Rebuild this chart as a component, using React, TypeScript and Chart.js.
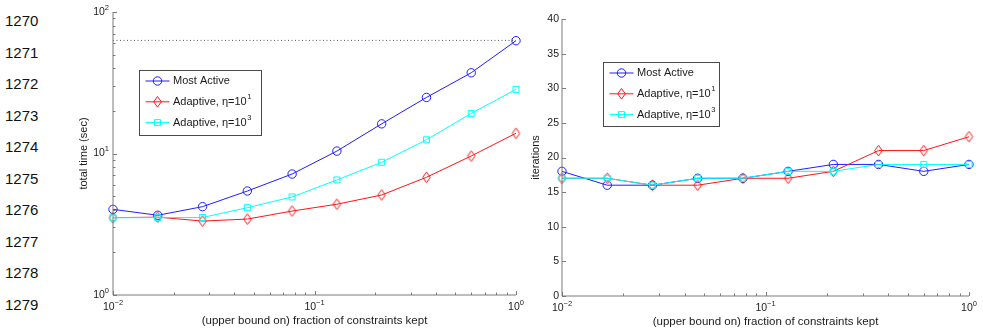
import React, { useEffect, useRef } from 'react';
import { Chart, registerables } from 'chart.js';
Chart.register(...registerables);

const FONT = '"Liberation Sans", Arial, Helvetica, sans-serif';

// ---------- data ----------
const fractionKept = [0.01, 0.016681, 0.027826, 0.046416, 0.077426, 0.12915, 0.21544, 0.35938, 0.59948, 1.0];

const timeMostActive = [4.03, 3.66, 4.21, 5.43, 7.16, 10.4, 16.2, 24.9, 37.2, 62.7];
const timeAdaptive1 = [3.52, 3.55, 3.33, 3.44, 3.92, 4.38, 5.09, 6.79, 9.6, 13.9];
const timeAdaptive3 = [3.52, 3.52, 3.53, 4.14, 4.93, 6.5, 8.67, 12.5, 19.2, 28.4];
const timeLimitX = [0.01, 1.0];
const timeLimitY = [63, 63];

const itersMostActive = [18, 16, 16, 17, 17, 18, 19, 19, 18, 19];
const itersAdaptive1 = [17, 17, 16, 16, 17, 17, 18, 21, 21, 23];
const itersAdaptive3 = [17, 17, 16, 17, 17, 18, 18, 19, 19, 19];

const xTickExponents = [-2, -1, 0];
const timeTickExponents = [0, 1, 2];
const iterationTicks = [0, 5, 10, 15, 20, 25, 30, 35, 40];

const seriesNames = ['Most Active', 'Adaptive, η=10', 'Adaptive, η=10'];
const seriesExponents = ['', '1', '3'];
const lineNumbers = ['1270', '1271', '1272', '1273', '1274', '1275', '1276', '1277', '1278', '1279'];

const xTitle = '(upper bound on) fraction of constraints kept';
const leftYTitle = 'total time (sec)';
const rightYTitle = 'iterations';

// ---------- styles ----------
const BLUE = 'rgb(30,30,255)';
const RED = 'rgb(255,20,20)';
const CYAN = 'rgb(0,255,255)';
const AXIS = '#7a7a7a';
const TEXT = '#1a1a1a';
const colors = [BLUE, RED, CYAN];
const markers = ['circle', 'diamond', 'square'];

function diamondImage(color: string) {
  const c = document.createElement('canvas');
  c.width = 11;
  c.height = 13;
  const g = c.getContext('2d')!;
  g.strokeStyle = color;
  g.lineWidth = 1;
  g.beginPath();
  g.moveTo(5.5, 1.2);
  g.lineTo(9.3, 6.5);
  g.lineTo(5.5, 11.8);
  g.lineTo(1.7, 6.5);
  g.closePath();
  g.stroke();
  return c;
}

function drawMarker(ctx: CanvasRenderingContext2D, kind: string, x: number, y: number, color: string) {
  ctx.save();
  ctx.strokeStyle = color;
  ctx.lineWidth = 1;
  ctx.beginPath();
  if (kind === 'circle') ctx.arc(x, y, 4.2, 0, Math.PI * 2);
  else if (kind === 'square') ctx.rect(x - 3, y - 3, 6, 6);
  else {
    ctx.moveTo(x, y - 5.3);
    ctx.lineTo(x + 3.8, y);
    ctx.lineTo(x, y + 5.3);
    ctx.lineTo(x - 3.8, y);
    ctx.closePath();
  }
  ctx.stroke();
  ctx.restore();
}

function drawPow(ctx: CanvasRenderingContext2D, exp: string, x: number, y: number, align: 'center' | 'right') {
  const baseSize = 10.5;
  const expSize = 7.5;
  ctx.font = `${baseSize}px ${FONT}`;
  const bw = ctx.measureText('10').width;
  ctx.font = `${expSize}px ${FONT}`;
  const ew = ctx.measureText(exp).width;
  const total = bw + ew;
  const start = align === 'center' ? x - total / 2 : x - total;
  ctx.textAlign = 'left';
  ctx.textBaseline = 'middle';
  ctx.font = `${baseSize}px ${FONT}`;
  ctx.fillText('10', start, y);
  ctx.font = `${expSize}px ${FONT}`;
  ctx.fillText(exp, start + bw, y - 4.5);
}

type DecorCfg = {
  yLog: boolean;
  yTitle: string;
  yTitleX: number;
  legend: { dx: number; dy: number; w: number; h: number };
};

function makeDecor(cfg: DecorCfg) {
  return {
    id: 'decor',
    afterDraw(chart: any) {
      const ctx: CanvasRenderingContext2D = chart.ctx;
      const { left, right, top, bottom } = chart.chartArea;
      const xs = chart.scales.x;
      const ys = chart.scales.y;
      ctx.save();
      // axis lines
      ctx.strokeStyle = AXIS;
      ctx.lineWidth = 1;
      ctx.beginPath();
      ctx.moveTo(left, top);
      ctx.lineTo(left, bottom);
      ctx.lineTo(right, bottom);
      ctx.stroke();
      // x ticks (log)
      ctx.beginPath();
      for (let e = xTickExponents[0]; e <= xTickExponents[xTickExponents.length - 1]; e++) {
        for (let m = 1; m <= 9; m++) {
          const v = m * Math.pow(10, e);
          if (v > Math.pow(10, xTickExponents[xTickExponents.length - 1]) + 1e-9) break;
          const px = Math.round(xs.getPixelForValue(v)) + 0.5;
          const len = m === 1 ? 4 : 2.5;
          ctx.moveTo(px, bottom);
          ctx.lineTo(px, bottom - len);
        }
      }
      // y ticks
      if (cfg.yLog) {
        const last = timeTickExponents[timeTickExponents.length - 1];
        for (let e = timeTickExponents[0]; e <= last; e++) {
          for (let m = 1; m <= 9; m++) {
            const v = m * Math.pow(10, e);
            if (v > Math.pow(10, last) + 1e-9) break;
            const py = Math.round(ys.getPixelForValue(v)) + 0.5;
            const len = m === 1 ? 4 : 2.5;
            ctx.moveTo(left, py);
            ctx.lineTo(left + len, py);
          }
        }
      } else {
        for (const t of iterationTicks) {
          const py = Math.round(ys.getPixelForValue(t)) + 0.5;
          ctx.moveTo(left, py);
          ctx.lineTo(left + 4, py);
        }
      }
      ctx.stroke();

      // tick labels
      ctx.fillStyle = TEXT;
      for (const e of xTickExponents) {
        drawPow(ctx, String(e).replace('-', '−'), xs.getPixelForValue(Math.pow(10, e)), bottom + 12, 'center');
      }
      if (cfg.yLog) {
        for (const e of timeTickExponents) {
          drawPow(ctx, String(e), left - 4, ys.getPixelForValue(Math.pow(10, e)), 'right');
        }
      } else {
        ctx.font = `10.5px ${FONT}`;
        ctx.textAlign = 'right';
        ctx.textBaseline = 'middle';
        for (const t of iterationTicks) {
          ctx.fillText(String(t), left - 3, ys.getPixelForValue(t));
        }
      }

      // axis titles
      ctx.font = `11.5px ${FONT}`;
      ctx.textAlign = 'center';
      ctx.textBaseline = 'middle';
      ctx.fillText(xTitle, (left + right) / 2, bottom + 26);
      ctx.save();
      ctx.translate(cfg.yTitleX, (top + bottom) / 2);
      ctx.rotate(-Math.PI / 2);
      ctx.font = `11px ${FONT}`;
      ctx.fillText(cfg.yTitle, 0, 0);
      ctx.restore();

      // legend
      const lg = cfg.legend;
      const bx = Math.round(left + lg.dx) + 0.5;
      const by = Math.round(top + lg.dy) + 0.5;
      ctx.fillStyle = '#ffffff';
      ctx.fillRect(bx, by, lg.w, lg.h);
      ctx.strokeStyle = '#4a4a4a';
      ctx.lineWidth = 1;
      ctx.strokeRect(bx, by, lg.w, lg.h);
      for (let i = 0; i < seriesNames.length; i++) {
        const ry = by + 10.5 + 20.8 * i;
        ctx.strokeStyle = colors[i];
        ctx.beginPath();
        ctx.moveTo(bx + 6, ry);
        ctx.lineTo(bx + 30, ry);
        ctx.stroke();
        drawMarker(ctx, markers[i], bx + 18, ry, colors[i]);
        ctx.fillStyle = TEXT;
        ctx.font = `11px ${FONT}`;
        ctx.textAlign = 'left';
        ctx.textBaseline = 'middle';
        ctx.fillText(seriesNames[i], bx + 33.5, ry);
        if (seriesExponents[i]) {
          const w = ctx.measureText(seriesNames[i]).width;
          ctx.font = `7.5px ${FONT}`;
          ctx.fillText(seriesExponents[i], bx + 33.5 + w + 0.5, ry - 4.5);
        }
      }
      ctx.restore();
    },
  };
}

function pts(values: number[], xs: number[] = fractionKept) {
  return values.map((v, i) => ({ x: xs[i], y: v }));
}

function seriesDataset(label: string, values: number[], idx: number, diamond: HTMLCanvasElement) {
  const color = colors[idx];
  const kind = markers[idx];
  return {
    label,
    data: pts(values),
    borderColor: color,
    borderWidth: 1,
    backgroundColor: 'transparent',
    pointStyle: kind === 'circle' ? 'circle' : kind === 'square' ? 'rect' : diamond,
    pointRadius: kind === 'circle' ? 4.2 : kind === 'square' ? 4.24 : 5,
    pointBorderColor: color,
    pointBackgroundColor: 'transparent',
    pointBorderWidth: 1,
    tension: 0,
    clip: false as any,
    order: 3 - idx,
  };
}

function leftConfig(): any {
  const diamond = diamondImage(RED);
  return {
    type: 'line',
    data: {
      datasets: [
        seriesDataset(seriesNames[0], timeMostActive, 0, diamond),
        seriesDataset(seriesNames[1] + seriesExponents[1], timeAdaptive1, 1, diamond),
        seriesDataset(seriesNames[2] + seriesExponents[2], timeAdaptive3, 2, diamond),
        {
          label: 'limit',
          data: pts(timeLimitY, timeLimitX),
          borderColor: '#555555',
          borderWidth: 1,
          borderDash: [1, 2.5],
          pointRadius: 0,
          clip: false,
          order: 5,
        },
      ],
    },
    options: {
      responsive: false,
      animation: false,
      events: [],
      layout: { padding: { left: 53, right: 14, top: 12, bottom: 38 } },
      scales: {
        x: { type: 'logarithmic', min: 0.01, max: 1, display: false },
        y: { type: 'logarithmic', min: 1, max: 100, display: false },
      },
      plugins: { legend: { display: false }, tooltip: { enabled: false } },
    },
    plugins: [makeDecor({ yLog: true, yTitle: leftYTitle, yTitleX: 24, legend: { dx: 26, dy: 58, w: 122, h: 65 } })],
  };
}

function rightConfig(): any {
  const diamond = diamondImage(RED);
  return {
    type: 'line',
    data: {
      datasets: [
        seriesDataset(seriesNames[0], itersMostActive, 0, diamond),
        seriesDataset(seriesNames[1] + seriesExponents[1], itersAdaptive1, 1, diamond),
        seriesDataset(seriesNames[2] + seriesExponents[2], itersAdaptive3, 2, diamond),
      ],
    },
    options: {
      responsive: false,
      animation: false,
      events: [],
      layout: { padding: { left: 62, right: 14, top: 19, bottom: 37 } },
      scales: {
        x: { type: 'logarithmic', min: 0.01, max: 1, display: false },
        y: { type: 'linear', min: 0, max: 40, display: false },
      },
      plugins: { legend: { display: false }, tooltip: { enabled: false } },
    },
    plugins: [makeDecor({ yLog: false, yTitle: rightYTitle, yTitleX: 36, legend: { dx: 41, dy: 43, w: 116, h: 64 } })],
  };
}

function ChartCanvas({ make, left, width }: { make: () => any; left: number; width: number }) {
  const ref = useRef<HTMLCanvasElement>(null);
  useEffect(() => {
    const chart = new Chart(ref.current as HTMLCanvasElement, make());
    return () => chart.destroy();
  }, []);
  return (
    <canvas
      ref={ref}
      width={width}
      height={333}
      style={{ position: 'absolute', left, top: 0, width, height: 333, display: 'block' }}
    />
  );
}

export default function App() {
  return (
    <div style={{ position: 'absolute', left: 0, top: 0, width: 983, height: 333, background: '#fff', overflow: 'hidden' }}>
      {lineNumbers.map((n, i) => (
        <div
          key={n}
          style={{
            position: 'absolute',
            left: 5,
            top: 21 + 31.5 * i - 9,
            height: 18,
            lineHeight: '18px',
            fontSize: 15,
            fontFamily: FONT,
            color: '#111',
          }}
        >
          {n}
        </div>
      ))}
      <ChartCanvas make={leftConfig} left={60} width={470} />
      <ChartCanvas make={rightConfig} left={500} width={483} />
    </div>
  );
}
